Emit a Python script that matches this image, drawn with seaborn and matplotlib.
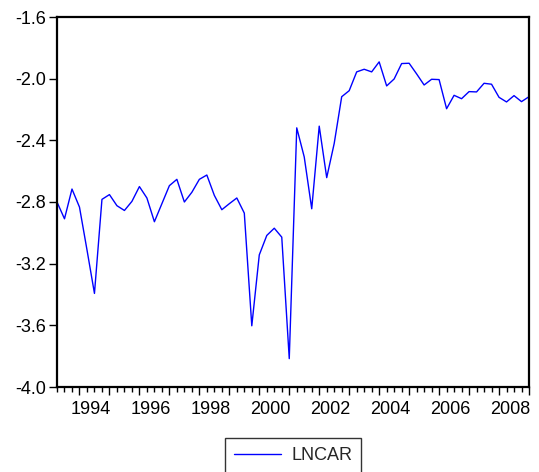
import numpy as np
import pandas as pd
import matplotlib
matplotlib.use("Agg")
import matplotlib.pyplot as plt
import seaborn as sns

# quarterly observations (index 0..63)
lncar = [-2.800, -2.909, -2.716, -2.833, -3.110, -3.393, -2.783, -2.752,
         -2.824, -2.855, -2.796, -2.700, -2.774, -2.928, -2.811, -2.694,
         -2.653, -2.800, -2.737, -2.653, -2.625, -2.757, -2.850, -2.811,
         -2.774, -2.872, -3.603, -3.143, -3.017, -2.970, -3.028, -3.816,
         -2.319, -2.508, -2.844, -2.308, -2.642, -2.420, -2.117, -2.078,
         -1.956, -1.939, -1.956, -1.891, -2.047, -2.002, -1.902, -1.900,
         -1.969, -2.041, -2.004, -2.006, -2.195, -2.108, -2.130, -2.084,
         -2.086, -2.030, -2.036, -2.121, -2.151, -2.110, -2.149, -2.117]
year_labels = ["1994", "1996", "1998", "2000", "2002", "2004", "2006", "2008"]
y_ticks = [-4.0, -3.6, -3.2, -2.8, -2.4, -2.0, -1.6]

df = pd.DataFrame({"t": np.arange(len(lncar)), "LNCAR": lncar})

sns.set_style("white")
plt.rcParams["font.family"] = ["Liberation Sans", "DejaVu Sans"]

fig = plt.figure(figsize=(5.39, 4.72), dpi=100)
ax = fig.add_axes([57/539, 1-387/472, (529-57)/539, (387-17)/472])

sns.lineplot(data=df, x="t", y="LNCAR", ax=ax, color="#0000FF", linewidth=1.0, label="LNCAR")

n = len(lncar)
ax.set_xlim(0, n - 1)
ax.set_ylim(-4.0, -1.6)
ax.set_yticks(y_ticks)
ax.set_yticklabels([f"{v:.1f}" for v in y_ticks])
ax.set_xlabel("")
ax.set_ylabel("")

# year-boundary ticks (long) and quarterly ticks (short)
ax.set_xticks(np.arange(3, n, 4))
ax.set_xticklabels([])
ax.set_xticks(np.arange(0, n, 1), minor=True)
ax.tick_params(axis="x", which="major", direction="out", length=6, width=1, bottom=True, color="black")
ax.tick_params(axis="x", which="minor", direction="out", length=3.5, width=1, bottom=True, color="black")
ax.tick_params(axis="y", which="major", direction="out", length=6, width=1, left=True, color="black",
               labelsize=13, pad=2, labelcolor="black")

sec = ax.secondary_xaxis("bottom")
sec.set_xticks(4.5 + 8 * np.arange(len(year_labels)))
sec.set_xticklabels(year_labels)
sec.tick_params(axis="x", length=0, labelsize=13, pad=10, labelcolor="black")
for s in sec.spines.values():
    s.set_visible(False)

for s in ax.spines.values():
    s.set_visible(True)
    s.set_color("black")
    s.set_linewidth(1.6)

leg = ax.legend(loc="upper center", bbox_to_anchor=(0.5, -0.138), frameon=True, fancybox=False,
                fontsize=13, handlelength=2.6, borderpad=0.5, handletextpad=0.6, borderaxespad=0)
leg.get_frame().set_edgecolor("black")
leg.get_frame().set_linewidth(1.0)

fig.savefig("out.png", dpi=100, facecolor="white")
